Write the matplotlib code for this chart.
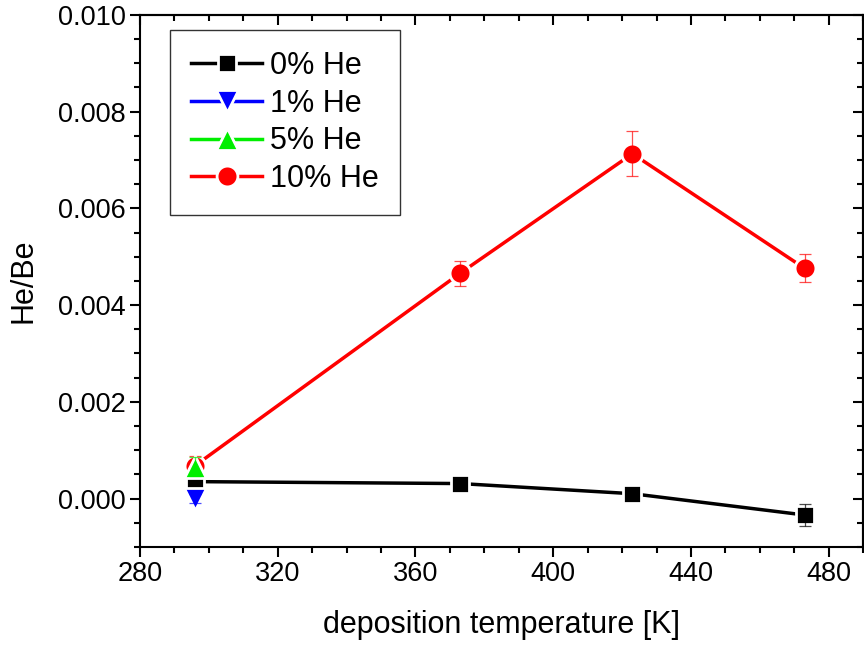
import matplotlib.pyplot as plt
from matplotlib.ticker import MultipleLocator

plt.rcParams['font.family'] = ['Liberation Sans', 'DejaVu Sans']

# deposition temperature [K]
temp_0 = [296, 373, 423, 473]
he_0 = [0.00035, 0.00031, 0.00010, -0.00034]
err_0 = [0.00005, 0.00003, 0.00003, 0.00023]

temp_1 = [296]
he_1 = [0.0]
err_1 = [0.0001]

temp_5 = [296]
he_5 = [0.00066]
err_5 = [0.0002]

temp_10 = [296, 373, 423, 473]
he_10 = [0.00068, 0.00466, 0.00713, 0.00476]
err_10 = [0.0002, 0.00026, 0.00046, 0.00029]

labels = ['0% He', '1% He', '5% He', '10% He']
colors = ['black', 'blue', '#00ee00', 'red']
markers = ['s', 'v', '^', 'o']
msizes = [13.5, 16, 16, 15]

fig = plt.figure(figsize=(8.64, 6.48), dpi=100)
ax = fig.add_axes([0.162, 0.156, 0.837, 0.821])

series = [(temp_0, he_0, err_0), (temp_1, he_1, err_1),
          (temp_5, he_5, err_5), (temp_10, he_10, err_10)]
zorders = [4, 5, 6, 3]
handles = []
for (x, y, e), lab, c, m, ms, z in zip(series, labels, colors, markers, msizes, zorders):
    ax.errorbar(x, y, yerr=e, fmt='none', ecolor=c, elinewidth=0.9,
                capsize=4, capthick=0.9, alpha=0.7, zorder=z + 0.5)
    h, = ax.plot(x, y, color=c, lw=2.5, marker=m, ms=ms, mfc=c,
                 mec='white', mew=2, label=lab, zorder=z)
    handles.append(h)

ax.set_xlim(280, 490)
ax.set_ylim(-0.001, 0.010)
ax.xaxis.set_major_locator(MultipleLocator(40))
ax.xaxis.set_minor_locator(MultipleLocator(10))
ax.yaxis.set_major_locator(MultipleLocator(0.002))
ax.yaxis.set_minor_locator(MultipleLocator(0.0005))
ax.yaxis.set_major_formatter(plt.FormatStrFormatter('%.3f'))

ax.tick_params(which='both', direction='out', top=False, right=False, labelsize=19.5, width=1.5)
ax.tick_params(which='major', length=7)
ax.tick_params(which='minor', length=4)
for side in ['top', 'right']:
    sec = ax.secondary_xaxis('top') if side == 'top' else ax.secondary_yaxis('right')
    sec.tick_params(which='both', direction='in', labelleft=False, labelright=False,
                    labeltop=False, labelbottom=False, width=1.5)
    sec.tick_params(which='major', length=7)
    sec.tick_params(which='minor', length=4)
    if side == 'top':
        sec.xaxis.set_major_locator(MultipleLocator(40))
        sec.xaxis.set_minor_locator(MultipleLocator(10))
    else:
        sec.yaxis.set_major_locator(MultipleLocator(0.002))
        sec.yaxis.set_minor_locator(MultipleLocator(0.0005))
    sec.spines[side].set_linewidth(1.5)
for s in ax.spines.values():
    s.set_linewidth(1.5)

ax.set_xlabel('deposition temperature [K]', fontsize=22, labelpad=16)
ax.set_ylabel('He/Be', fontsize=22, labelpad=14)

leg = ax.legend(handles=handles, loc='upper left', bbox_to_anchor=(0.0415, 0.972),
                borderaxespad=0, fontsize=22, frameon=True, fancybox=False,
                edgecolor='black', handlelength=2.3, borderpad=0.7, labelspacing=0.25,
                handletextpad=0.26)
leg.get_frame().set_linewidth(1.0)

plt.savefig('out.png', dpi=100)
